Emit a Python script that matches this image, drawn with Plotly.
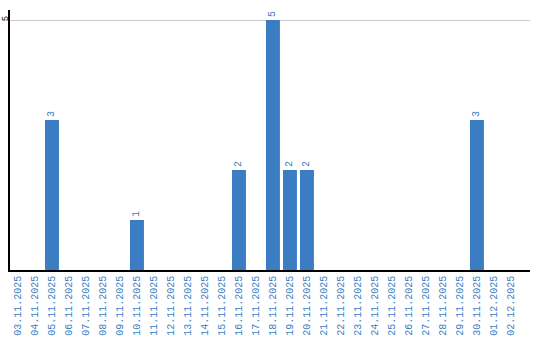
import plotly.graph_objects as go

dates = ["03.11.2025","04.11.2025","05.11.2025","06.11.2025","07.11.2025","08.11.2025",
         "09.11.2025","10.11.2025","11.11.2025","12.11.2025","13.11.2025","14.11.2025",
         "15.11.2025","16.11.2025","17.11.2025","18.11.2025","19.11.2025","20.11.2025",
         "21.11.2025","22.11.2025","23.11.2025","24.11.2025","25.11.2025","26.11.2025",
         "27.11.2025","28.11.2025","29.11.2025","30.11.2025","01.12.2025","02.12.2025"]
counts = [0,0,3,0,0,0,0,1,0,0,0,0,0,2,0,5,2,2,0,0,0,0,0,0,0,0,0,3,0,0]
labels = [str(c) if c > 0 else "" for c in counts]

blue = "#3b7dc3"
font = "Liberation Mono"

fig = go.Figure(go.Bar(
    x=dates, y=counts, text=labels, textposition="outside", textangle=-90,
    textfont=dict(family=font, size=10, color=blue),
    marker=dict(color=blue, line=dict(width=0)), cliponaxis=False,
))
fig.update_layout(
    width=540, height=340, margin=dict(l=10, r=10, t=10, b=70),
    paper_bgcolor="white", plot_bgcolor="white", bargap=0.18,
    showlegend=False,
    xaxis=dict(type="category", range=[-0.47, 30.12], tickangle=-90, ticks="",
               showgrid=False, automargin=False,
               showline=True, linecolor="black", linewidth=1.5,
               tickfont=dict(family=font, size=10, color=blue)),
    yaxis=dict(range=[0, 5.2], tickvals=[5], ticktext=["5"], tickangle=-90, ticks="",
               showgrid=True, gridcolor="#cccccc", gridwidth=1, zeroline=False, automargin=False,
               showline=True, linecolor="black", linewidth=1.5, ticklabelstandoff=-3,
               tickfont=dict(family=font, size=9, color="black")),
)
fig.write_html("out.html")
